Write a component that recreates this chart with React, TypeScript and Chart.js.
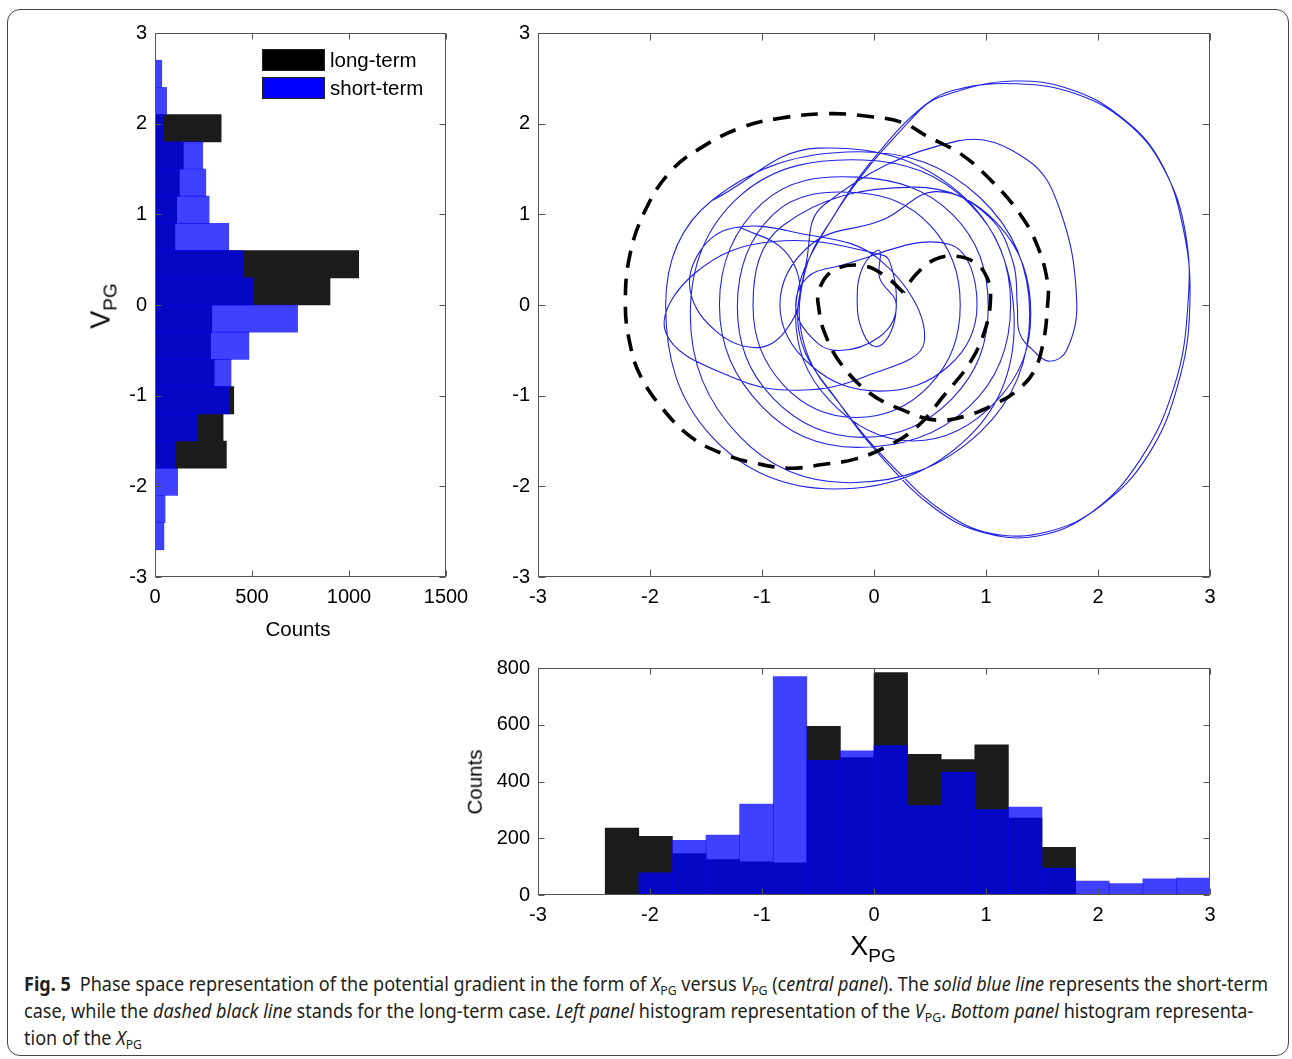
import React, { useEffect, useLayoutEffect, useRef } from "react";
import { Chart, registerables } from "chart.js";

Chart.register(...registerables);

const FONT = "'Liberation Sans', Arial, Helvetica, sans-serif";
const CAPTION_FONT = "'Noto Sans', 'Open Sans', sans-serif";

// ---- histogram bins (centres of 0.3-wide bins from -3 to 3) ----
const BIN_CENTERS = [
  -2.85, -2.55, -2.25, -1.95, -1.65, -1.35, -1.05, -0.75, -0.45, -0.15,
  0.15, 0.45, 0.75, 1.05, 1.35, 1.65, 1.95, 2.25, 2.55, 2.85,
];

// V_PG histogram counts
const VPG_LONG = [0, 0, 0, 0, 368, 351, 406, 305, 287, 293, 902, 1050, 103, 112, 126, 146, 341, 0, 0, 0];
const VPG_SHORT = [0, 46, 52, 117, 105, 220, 384, 392, 484, 735, 504, 456, 380, 279, 262, 246, 43, 60, 35, 0];

// X_PG histogram counts
const XPG_LONG = [0, 0, 236, 207, 146, 125, 117, 113, 594, 484, 784, 496, 477, 529, 271, 168, 0, 0, 0, 0];
const XPG_SHORT = [0, 0, 0, 78, 193, 211, 320, 770, 475, 508, 527, 315, 433, 301, 310, 95, 49, 40, 57, 60];

const LONG_LABEL = "long-term";
const SHORT_LABEL = "short-term";

// axis ranges / ticks
const PHASE_TICK_STEP = 1;
const PHASE_MIN = -3;
const PHASE_MAX = 3;
const VPG_COUNT_MAX = 1500;
const VPG_COUNT_STEP = 500;
const XPG_COUNT_MAX = 800;
const XPG_COUNT_STEP = 200;

// ---- phase-space trajectories (X_PG, V_PG) ----
// short-term: clockwise cycles first
const loopA: [number, number][] = [
  [-1.45, 1.15], [-0.50, 1.73], [0.75, 1.25], [1.25, -0.10], [0.85, -1.45], [-0.35, -2.03], [-1.45, -1.45], [-1.86, 0.0], [-1.45, 1.15],
];
const loopB: [number, number][] = [
  [-0.15, 1.69], [0.95, 1.18], [1.39, -0.10], [0.95, -1.40], [-0.20, -1.96], [-1.20, -1.45], [-1.64, -0.10], [-1.20, 1.20],
];
const loopE: [number, number][] = [
  [-0.10, 1.60], [0.85, 1.12], [1.22, 0.0], [0.85, -1.12], [-0.15, -1.57], [-1.00, -1.12], [-1.38, 0.0], [-1.00, 1.12],
];
const loopF: [number, number][] = [
  [-0.15, 1.41], [0.70, 1.00], [1.02, -0.02], [0.70, -1.03], [-0.10, -1.46], [-0.90, -1.03], [-1.22, -0.02], [-0.90, 1.00],
];
const loopG: [number, number][] = [
  [-0.16, 1.24], [0.50, 0.88], [0.77, 0.0], [0.50, -0.88], [-0.16, -1.24], [-0.81, -0.88], [-1.08, 0.0], [-0.81, 0.88],
];
const loopM: [number, number][] = [
  [0.35, 1.30], [1.10, 0.90], [1.40, -0.10], [1.10, -1.05], [0.35, -1.50], [-0.40, -1.05], [-0.70, -0.10], [-0.40, 0.90],
];
// wide excursion on the right, traversed twice
const outerLoop1: [number, number][] = [
  [0.41, 2.15], [0.70, 2.34], [1.24, 2.47], [1.75, 2.38], [2.20, 2.08], [2.55, 1.60],
  [2.76, 0.85], [2.82, 0.0], [2.72, -0.85], [2.45, -1.65], [2.02, -2.22], [1.55, -2.50],
  [1.05, -2.52], [0.62, -2.28], [0.20, -1.82], [-0.25, -1.18], [-0.62, -0.45],
  [-0.62, 0.35], [-0.35, 1.0], [0.0, 1.62],
];
const outerLoop2: [number, number][] = [
  [0.45, 2.2], [0.75, 2.38], [1.28, 2.44], [1.80, 2.33], [2.25, 2.02], [2.58, 1.52],
  [2.78, 0.80], [2.80, -0.05], [2.68, -0.90], [2.38, -1.70], [1.95, -2.28], [1.45, -2.55],
  [0.95, -2.50], [0.55, -2.25], [0.12, -1.75], [-0.30, -1.10], [-0.66, -0.35],
  [-0.60, 0.50], [-0.45, 1.10],
];
// hook on the right where the motion turns round
const loopHook: [number, number][] = [
  [0.75, 1.81], [1.37, 1.60], [1.66, 1.05], [1.81, 0.05], [1.72, -0.50], [1.57, -0.62],
  [1.42, -0.50], [1.30, -0.31], [1.28, -0.02], [1.24, 0.48], [1.02, 0.98], [0.55, 1.25],
];
// counter-clockwise cycles afterwards
const loopH: [number, number][] = [
  [0.08, 0.94], [-0.56, 0.67], [-0.84, 0.0], [-0.56, -0.67], [0.05, -0.95], [0.67, -0.67], [0.92, 0.0], [0.67, 0.67],
];
const loopK: [number, number][] = [
  [-0.35, 0.42], [-0.60, 0.30], [-0.70, 0.0], [-0.60, -0.30], [-0.35, -0.50], [0.05, -0.35], [0.20, 0.0], [0.05, 0.30],
];
const loopI: [number, number][] = [
  [0.05, 0.60], [-0.10, 0.42], [-0.15, 0.05], [-0.10, -0.30], [0.02, -0.46], [0.15, -0.30], [0.20, 0.05], [0.16, 0.40], [0.08, 0.55],
];
const loopD: [number, number][] = [
  [-0.90, 0.70], [-1.60, 0.35], [-1.86, -0.30], [-1.26, -0.80], [-0.66, -0.94], [-0.06, -0.78], [0.45, -0.40], [0.05, 0.50],
];
const loopC: [number, number][] = [
  [-0.70, 0.80], [-1.26, 0.85], [-1.55, 0.60], [-1.64, 0.15], [-1.40, -0.30], [-1.05, -0.47], [-0.80, -0.30], [-0.66, 0.15],
  [-0.80, 0.60], [-1.20, 0.86],
];

const SHORT_TERM_PATH = [
  ...loopA, ...loopB, ...loopE, ...loopF, ...loopG, ...loopM,
  ...outerLoop1, ...outerLoop2, ...loopHook,
  ...loopH, ...loopK, ...loopI, ...loopD, ...loopC,
];

// long-term: large cycle joined to a small inner cycle
const LONG_TERM_PATH: [number, number][] = [
  [0.26, 0.14], [0.12, 0.30], [-0.08, 0.43], [-0.35, 0.39], [-0.49, 0.17], [-0.49, -0.06],
  [-0.44, -0.31], [-0.30, -0.64], [-0.04, -0.97], [0.26, -1.16], [0.56, -1.27], [0.83, -1.22],
  [1.10, -1.08], [1.26, -0.96], [1.42, -0.75], [1.51, -0.42], [1.55, 0.0], [1.55, 0.25],
  [1.46, 0.65], [1.30, 1.01], [1.04, 1.38], [0.77, 1.67], [0.46, 1.87], [0.26, 2.01],
  [-0.04, 2.08], [-0.41, 2.11], [-0.84, 2.06], [-1.20, 1.95], [-1.55, 1.73], [-1.82, 1.47],
  [-2.04, 1.05], [-2.18, 0.55], [-2.22, 0.0], [-2.18, -0.42], [-2.09, -0.77], [-1.89, -1.14],
  [-1.63, -1.46], [-1.33, -1.65], [-1.04, -1.75], [-0.75, -1.80], [-0.46, -1.76], [-0.17, -1.70],
  [0.10, -1.57], [0.37, -1.36], [0.63, -0.99], [0.86, -0.63], [0.99, -0.28], [1.04, 0.06],
  [1.01, 0.30], [0.90, 0.47], [0.72, 0.54], [0.54, 0.50], [0.37, 0.33], [0.26, 0.14],
];

// ---- colours ----
const LONG_FILL = "#1b1b1b";
const SHORT_FILL = "rgba(0, 0, 255, 0.75)";
const LONG_SWATCH = "#000000";
const SHORT_SWATCH = "#0000ff";
const BLUE_LINE = "rgb(34, 34, 232)";
const FRAME = "#555";

// ---- plugins ----
const boxPlugin = {
  id: "boxAxes",
  afterDraw(chart: any, _args: any, opts: any) {
    const { ctx, chartArea: a, scales } = chart;
    const len = opts.tickLen ?? 6;
    const L = Math.round(a.left) + 0.5;
    const R = Math.round(a.right) - 0.5;
    const T = Math.round(a.top) + 0.5;
    const B = Math.round(a.bottom) - 0.5;
    ctx.save();
    ctx.strokeStyle = FRAME;
    ctx.lineWidth = 1;
    ctx.strokeRect(L, T, R - L, B - T);
    ctx.beginPath();
    const xs = scales.x;
    const ys = scales.y;
    xs.ticks.forEach((t: any) => {
      const p = Math.round(xs.getPixelForValue(t.value)) + 0.5;
      ctx.moveTo(p, B);
      ctx.lineTo(p, B - len);
      ctx.moveTo(p, T);
      ctx.lineTo(p, T + len);
    });
    ys.ticks.forEach((t: any) => {
      const p = Math.round(ys.getPixelForValue(t.value)) + 0.5;
      ctx.moveTo(L, p);
      ctx.lineTo(L + len, p);
      ctx.moveTo(R, p);
      ctx.lineTo(R - len, p);
    });
    ctx.stroke();
    ctx.restore();
  },
};

const swatchLegendPlugin = {
  id: "swatchLegend",
  afterDraw(chart: any) {
    const { ctx, chartArea: a } = chart;
    const items = [
      { label: LONG_LABEL, color: LONG_SWATCH },
      { label: SHORT_LABEL, color: SHORT_SWATCH },
    ];
    ctx.save();
    ctx.font = `20.5px ${FONT}`;
    ctx.textBaseline = "middle";
    ctx.textAlign = "left";
    items.forEach((it, i) => {
      const x = a.left + 107;
      const y = a.top + 16 + i * 28;
      ctx.fillStyle = it.color;
      ctx.fillRect(x, y, 63, 22);
      ctx.strokeStyle = "#222";
      ctx.lineWidth = 1;
      ctx.strokeRect(x + 0.5, y + 0.5, 62, 21);
      ctx.fillStyle = "#000";
      ctx.fillText(it.label, x + 68, y + 12);
    });
    ctx.restore();
  },
};

// ---- helpers ----
function axis(min: number, max: number, step: number, size: number, horizontal: boolean) {
  return {
    type: "linear",
    min,
    max,
    offset: false,
    grid: { display: false, drawTicks: false },
    border: { display: false },
    ticks: {
      stepSize: step,
      autoSkip: false,
      maxRotation: 0,
      padding: 8,
      color: "#000",
      font: { family: FONT, size: 20 },
      callback: (v: number) => String(v),
    },
    afterFit: (s: any) => {
      if (horizontal) s.height = size;
      else s.width = size;
      s.paddingLeft = 0;
      s.paddingRight = 0;
      s.paddingTop = 0;
      s.paddingBottom = 0;
    },
  };
}

function binPoints(values: number[], horizontalBars: boolean) {
  const pts: { x: number; y: number }[] = [];
  values.forEach((v, i) => {
    if (v <= 0) return;
    pts.push(horizontalBars ? { x: v, y: BIN_CENTERS[i] } : { x: BIN_CENTERS[i], y: v });
  });
  return pts;
}

const baseOptions = {
  responsive: false,
  animation: false as const,
  devicePixelRatio: 1,
  events: [] as any[],
};

function ChartCanvas({ left, top, width, height, build }: any) {
  const ref = useRef<HTMLCanvasElement>(null);
  useEffect(() => {
    const chart = new Chart(ref.current as HTMLCanvasElement, build());
    return () => chart.destroy();
  }, []);
  return (
    <canvas
      ref={ref}
      width={width}
      height={height}
      style={{ position: "absolute", left, top, width, height }}
    />
  );
}

function vpgConfig(): any {
  return {
    type: "bar",
    data: {
      datasets: [
        { label: SHORT_LABEL, data: binPoints(VPG_SHORT, true), backgroundColor: SHORT_FILL, order: 0 },
        { label: LONG_LABEL, data: binPoints(VPG_LONG, true), backgroundColor: LONG_FILL, order: 1 },
      ],
    },
    options: {
      ...baseOptions,
      indexAxis: "y",
      layout: { padding: { left: 85, top: 33, right: 34, bottom: 23 } },
      datasets: { bar: { grouped: false, barPercentage: 1, categoryPercentage: 1, borderWidth: 0 } },
      scales: {
        x: axis(0, VPG_COUNT_MAX, VPG_COUNT_STEP, 40, true),
        y: axis(PHASE_MIN, PHASE_MAX, PHASE_TICK_STEP, 70, false),
      },
      plugins: { legend: { display: false }, tooltip: { enabled: false }, boxAxes: { tickLen: 6 } },
    },
    plugins: [boxPlugin, swatchLegendPlugin],
  };
}

function phaseConfig(): any {
  return {
    type: "scatter",
    data: {
      datasets: [
        {
          label: LONG_LABEL,
          data: LONG_TERM_PATH.map(([x, y]) => ({ x, y })),
          showLine: true,
          borderColor: "#000",
          borderWidth: 3.6,
          borderDash: [17, 11],
          pointRadius: 0,
          tension: 0.4,
          order: 0,
        },
        {
          label: SHORT_LABEL,
          data: SHORT_TERM_PATH.map(([x, y]) => ({ x, y })),
          showLine: true,
          borderColor: BLUE_LINE,
          borderWidth: 1.1,
          pointRadius: 0,
          tension: 0.4,
          order: 1,
        },
      ],
    },
    options: {
      ...baseOptions,
      layout: { padding: { left: 0, top: 33, right: 50, bottom: 23 } },
      scales: {
        x: axis(PHASE_MIN, PHASE_MAX, PHASE_TICK_STEP, 40, true),
        y: axis(PHASE_MIN, PHASE_MAX, PHASE_TICK_STEP, 58, false),
      },
      plugins: { legend: { display: false }, tooltip: { enabled: false }, boxAxes: { tickLen: 7 } },
    },
    plugins: [boxPlugin],
  };
}

function xpgConfig(): any {
  return {
    type: "bar",
    data: {
      datasets: [
        { label: SHORT_LABEL, data: binPoints(XPG_SHORT, false), backgroundColor: SHORT_FILL, order: 0 },
        { label: LONG_LABEL, data: binPoints(XPG_LONG, false), backgroundColor: LONG_FILL, order: 1 },
      ],
    },
    options: {
      ...baseOptions,
      layout: { padding: { left: 0, top: 28, right: 50, bottom: 5 } },
      datasets: { bar: { grouped: false, barPercentage: 1, categoryPercentage: 1, borderWidth: 0 } },
      scales: {
        x: axis(PHASE_MIN, PHASE_MAX, PHASE_TICK_STEP, 40, true),
        y: axis(0, XPG_COUNT_MAX, XPG_COUNT_STEP, 58, false),
      },
      plugins: { legend: { display: false }, tooltip: { enabled: false }, boxAxes: { tickLen: 6 } },
    },
    plugins: [boxPlugin],
  };
}

function Label({ x, y, rotate, children, style }: any) {
  return (
    <div
      style={{
        position: "absolute",
        left: x,
        top: y,
        transform: `translate(-50%, -50%)${rotate ? " rotate(-90deg)" : ""}`,
        whiteSpace: "nowrap",
        fontFamily: FONT,
        fontSize: 20.5,
        lineHeight: 1,
        color: "#000",
        ...style,
      }}
    >
      {children}
    </div>
  );
}

function Sym({ main, sub }: { main: string; sub: string }) {
  return (
    <span>
      <span style={{ fontSize: 27 }}>{main}</span>
      <span style={{ fontSize: 19, position: "relative", top: 7 }}>{sub}</span>
    </span>
  );
}

const subStyle: React.CSSProperties = { fontSize: "0.68em", verticalAlign: "-0.28em", lineHeight: 0 };

function Caption() {
  const lineRef = useRef<HTMLSpanElement>(null);
  const boxRef = useRef<HTMLDivElement>(null);
  useLayoutEffect(() => {
    const w = lineRef.current!.getBoundingClientRect().width;
    if (w > 0) boxRef.current!.style.transform = `scaleX(${1244 / w})`;
  }, []);
  const line: React.CSSProperties = { whiteSpace: "nowrap", height: 27 };
  return (
    <div
      ref={boxRef}
      style={{
        position: "absolute",
        left: 24,
        top: 971,
        transformOrigin: "0 0",
        fontFamily: CAPTION_FONT,
        fontSize: 19,
        lineHeight: "27px",
        color: "#231f20",
      }}
    >
      <div style={line}>
        <span ref={lineRef}>
          <b>Fig. 5</b>
          {"\u2002"}Phase space representation of the potential gradient in the form of <i>X</i>
          <span style={subStyle}>PG</span> versus <i>V</i>
          <span style={subStyle}>PG</span> (c<i>entral panel</i>). The <i>solid blue line</i> represents the
          short-term
        </span>
      </div>
      <div style={line}>
        case, while the <i>dashed black line</i> stands for the long-term case. <i>Left panel</i> histogram
        representation of the <i>V</i>
        <span style={subStyle}>PG</span>. <i>Bottom panel</i> histogram representa-
      </div>
      <div style={line}>
        tion of the <i>X</i>
        <span style={subStyle}>PG</span>
      </div>
    </div>
  );
}

export default function App() {
  return (
    <div
      style={{
        position: "absolute",
        left: 0,
        top: 0,
        width: 1292,
        height: 1059,
        background: "#fff",
        overflow: "hidden",
      }}
    >
      <div
        style={{
          position: "absolute",
          left: 7,
          top: 9,
          width: 1282,
          height: 1047,
          border: "1px solid #444",
          borderRadius: 13,
          boxSizing: "border-box",
        }}
      />
      <ChartCanvas left={0} top={0} width={480} height={640} build={vpgConfig} />
      <ChartCanvas left={480} top={0} width={780} height={640} build={phaseConfig} />
      <ChartCanvas left={480} top={640} width={780} height={300} build={xpgConfig} />

      <Label x={298} y={629}>Counts</Label>
      <Label x={101} y={306} rotate>
        <Sym main="V" sub="PG" />
      </Label>
      <Label x={475} y={782} rotate>Counts</Label>
      <Label x={873} y={946}>
        <Sym main="X" sub="PG" />
      </Label>
      <Caption />
    </div>
  );
}
